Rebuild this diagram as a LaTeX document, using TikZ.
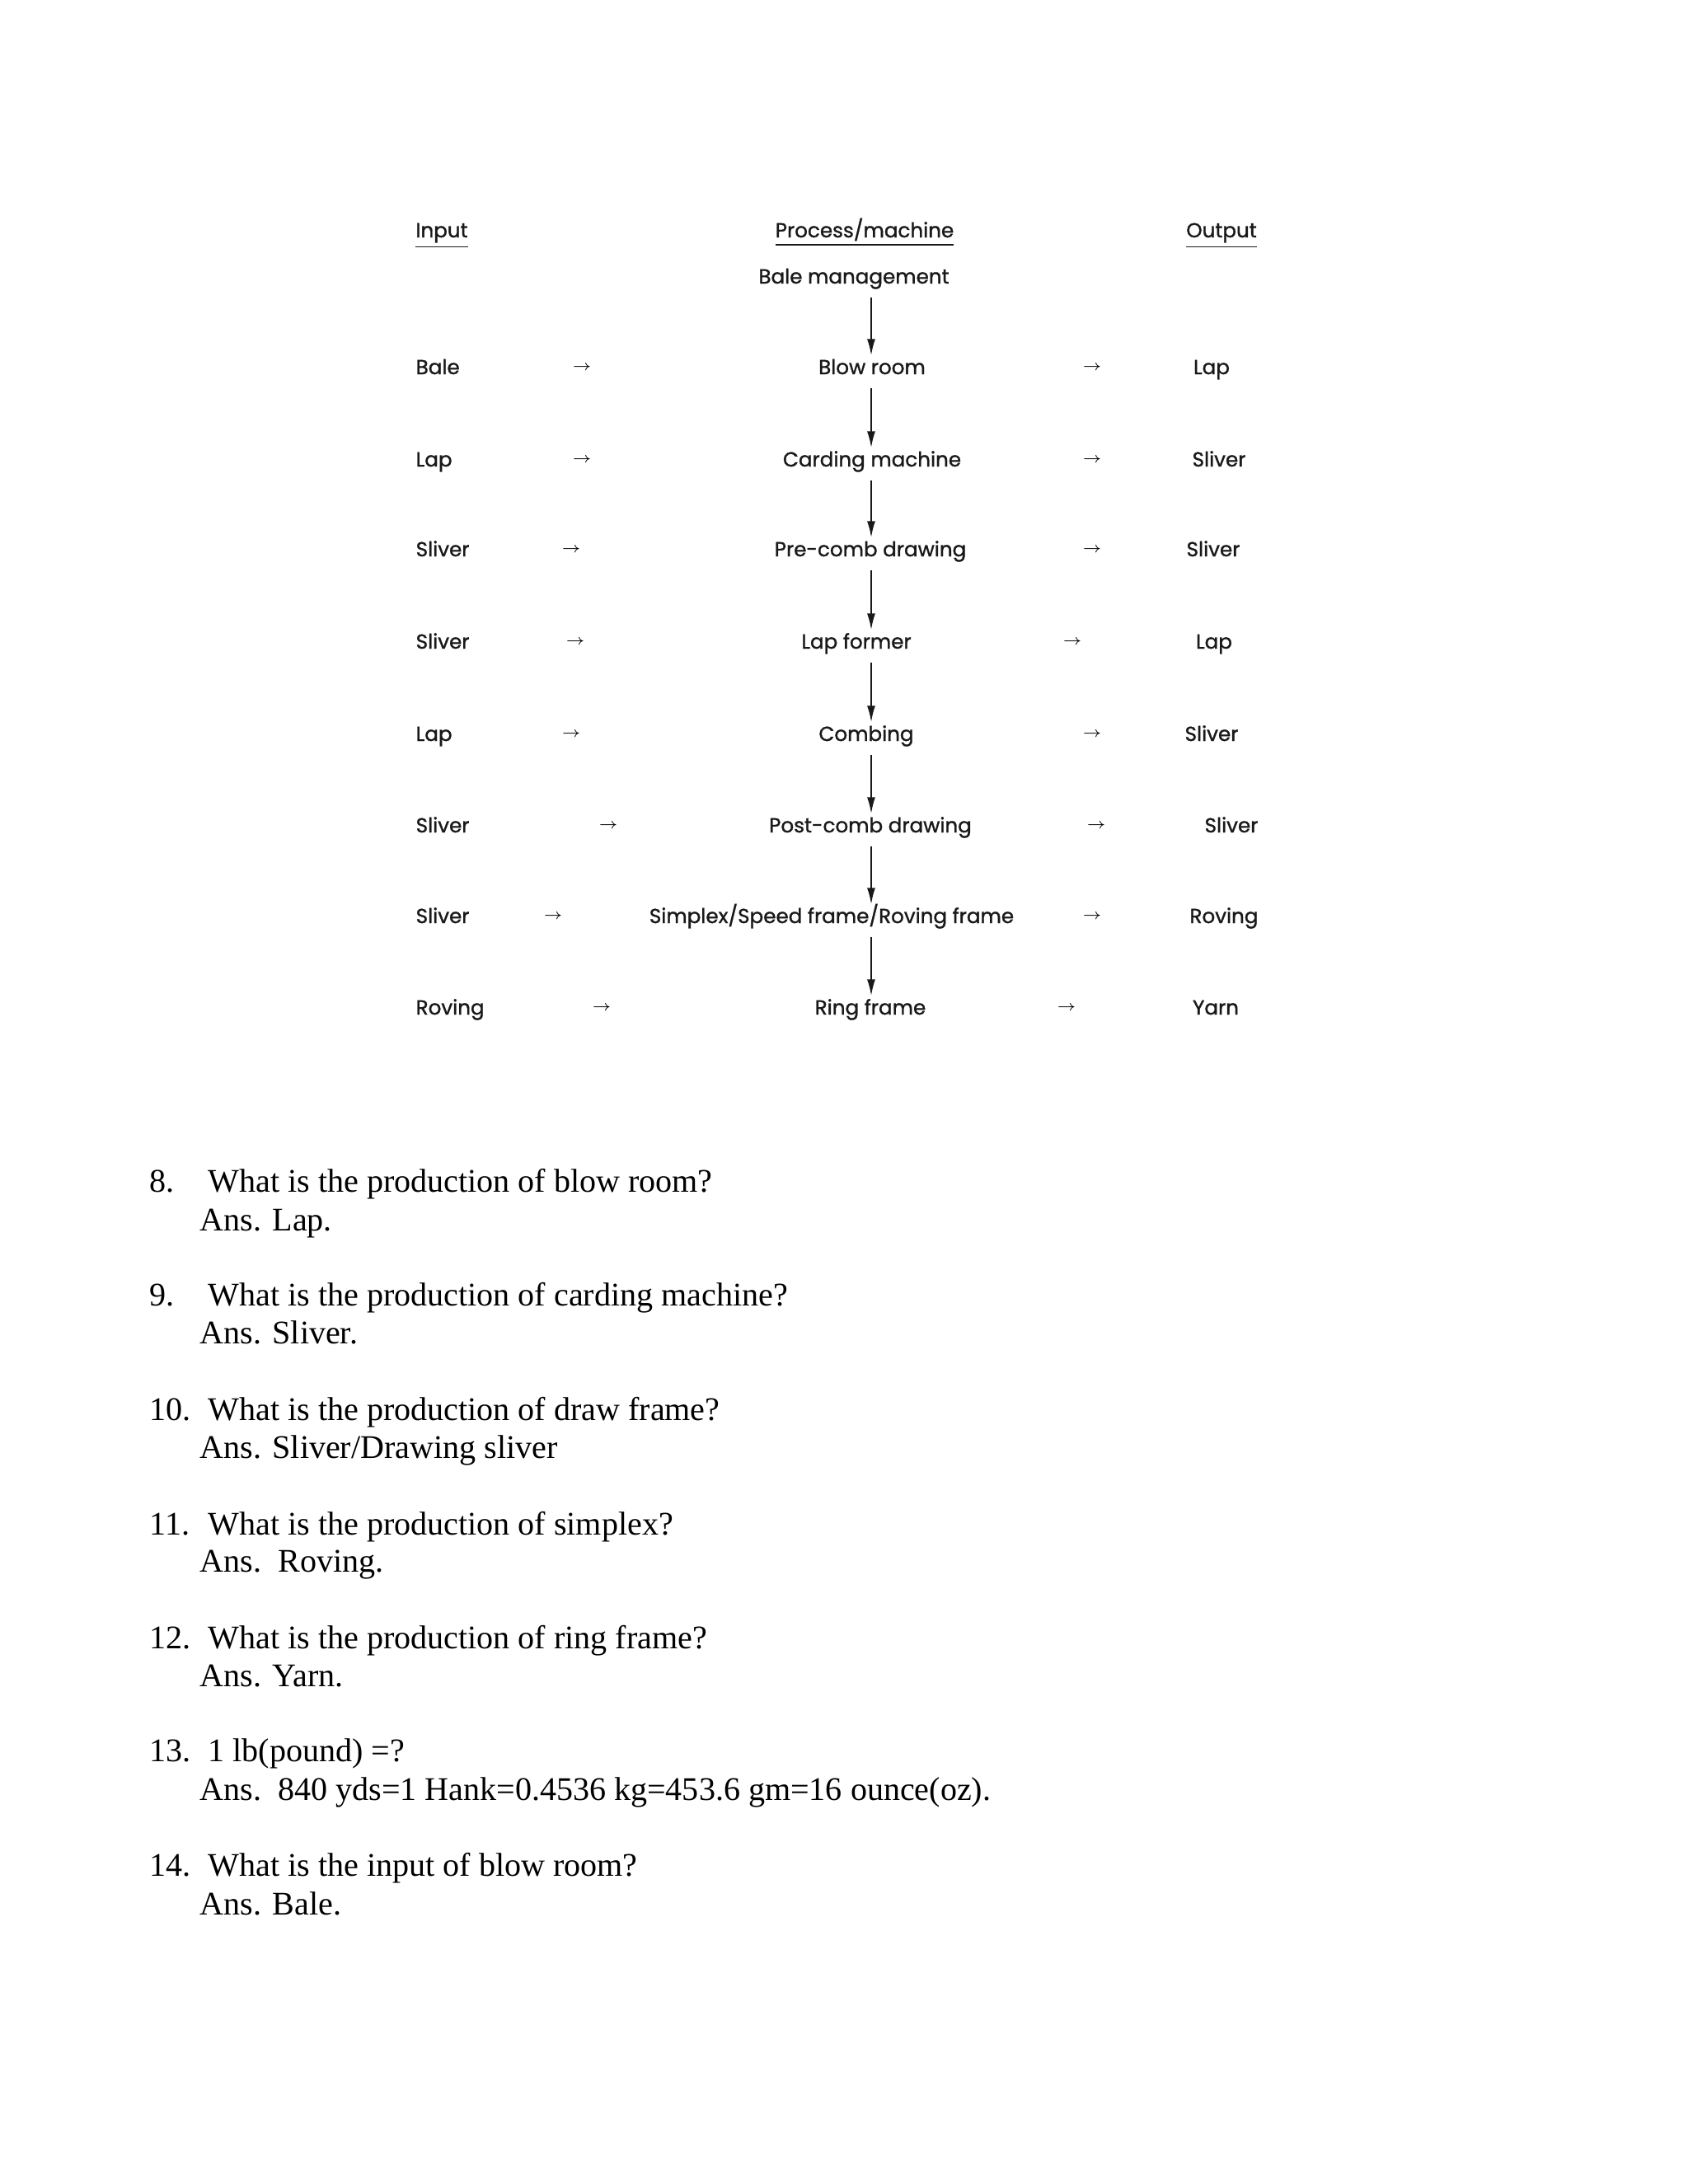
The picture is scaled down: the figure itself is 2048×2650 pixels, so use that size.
\documentclass[tikz,border=0pt]{standalone}
\usepackage{fontspec}
\setmainfont{Liberation Serif}
\newfontfamily\flowfont[FakeBold=1.2]{Poppins}
\usetikzlibrary{arrows.meta,positioning}

\tikzset{
  flow/.style={font=\flowfont\fontsize{7}{8}\selectfont,text=black!90,inner sep=0pt,text height=2.2mm,text depth=0.6mm},
  inrow/.style={flow,anchor=west},
  harrow/.style={font=\fontsize{5.5}{6}\selectfont,inner sep=0pt,text=black},
  down/.style={-{Latex[length=2mm,width=1mm]},line width=0.55pt,draw=black!90,shorten <=1mm},
  qa/.style={font=\fontsize{11.4}{13}\selectfont,anchor=base west,inner sep=0pt}
}

\begin{document}
\begin{tikzpicture}[x=0.1mm,y=-0.1mm]
  \fill[white] (0,0) rectangle (2048,2650);
  \useasboundingbox (0,0) rectangle (2048,2650);

  % headings
  \node[flow] (inhead)   at (536,280)  {\underline{Input}};
  \node[flow] (prochead) at (1049,280) {\underline{Process/machine}};
  \node[flow] (outhead)  at (1482,280) {\underline{Output}};
  \node[flow] (bale)     at (1036,336) {Bale management};
  \coordinate (spine) at (1057,0);

  % inputs
  \node[inrow] (in1) at (504,446)  {Bale};
  \node[inrow] (in2) at (504,558)  {Lap};
  \node[inrow] (in3) at (504,667)  {Sliver};
  \node[inrow] (in4) at (504,779)  {Sliver};
  \node[inrow] (in5) at (504,891)  {Lap};
  \node[inrow] (in6) at (504,1002) {Sliver};
  \node[inrow] (in7) at (504,1112) {Sliver};
  \node[inrow] (in8) at (504,1223) {Roving};

  % processes
  \node[flow] (p1) at (1058,446)  {Blow room};
  \node[flow] (p2) at (1058,558)  {Carding machine};
  \node[flow] (p3) at (1056,667)  {Pre-comb drawing};
  \node[flow] (p4) at (1039,779)  {Lap former};
  \node[flow] (p5) at (1051,891)  {Combing};
  \node[flow] (p6) at (1056,1002) {Post-comb drawing};
  \node[flow] (p7) at (1009,1112) {Simplex/Speed frame/Roving frame};
  \node[flow] (p8) at (1056,1223) {Ring frame};

  % outputs
  \node[flow] (out1) at (1470,446)  {Lap};
  \node[flow] (out2) at (1479,558)  {Sliver};
  \node[flow] (out3) at (1472,667)  {Sliver};
  \node[flow] (out4) at (1473,779)  {Lap};
  \node[flow] (out5) at (1470,891)  {Sliver};
  \node[flow] (out6) at (1494,1002) {Sliver};
  \node[flow] (out7) at (1485,1112) {Roving};
  \node[flow] (out8) at (1475,1223) {Yarn};

  % small arrows between the columns
  \node[harrow] (la1) at (706,446)  {$\rightarrow$};
  \node[harrow] (la2) at (706,558)  {$\rightarrow$};
  \node[harrow] (la3) at (693,667)  {$\rightarrow$};
  \node[harrow] (la4) at (698,779)  {$\rightarrow$};
  \node[harrow] (la5) at (693,891)  {$\rightarrow$};
  \node[harrow] (la6) at (738,1002) {$\rightarrow$};
  \node[harrow] (la7) at (671,1112) {$\rightarrow$};
  \node[harrow] (la8) at (730,1223) {$\rightarrow$};
  \node[harrow] (ra1) at (1325,446)  {$\rightarrow$};
  \node[harrow] (ra2) at (1325,558)  {$\rightarrow$};
  \node[harrow] (ra3) at (1325,667)  {$\rightarrow$};
  \node[harrow] (ra4) at (1301,779)  {$\rightarrow$};
  \node[harrow] (ra5) at (1325,891)  {$\rightarrow$};
  \node[harrow] (ra6) at (1330,1002) {$\rightarrow$};
  \node[harrow] (ra7) at (1325,1112) {$\rightarrow$};
  \node[harrow] (ra8) at (1294,1223) {$\rightarrow$};

  % the chain of machines
  \draw[down] (bale.south -| spine) -- (p1.north -| spine);
  \draw[down] (p1.south -| spine) -- (p2.north -| spine);
  \draw[down] (p2.south -| spine) -- (p3.north -| spine);
  \draw[down] (p3.south -| spine) -- (p4.north -| spine);
  \draw[down] (p4.south -| spine) -- (p5.north -| spine);
  \draw[down] (p5.south -| spine) -- (p6.north -| spine);
  \draw[down] (p6.south -| spine) -- (p7.north -| spine);
  \draw[down] (p7.south -| spine) -- (p8.north -| spine);

  % questions
  \node[qa] (n8)  at (181,1446) {8.};
  \node[qa] (q8)  at (252,1446) {What is the production of blow room?};
  \node[qa] (a8)  at (242,1493) {Ans. Lap.};
  \node[qa] (n9)  at (181,1584) {9.};
  \node[qa] (q9)  at (252,1584) {What is the production of carding machine?};
  \node[qa] (a9)  at (242,1630) {Ans. Sliver.};
  \node[qa] (n10) at (181,1723) {10.};
  \node[qa] (q10) at (252,1723) {What is the production of draw frame?};
  \node[qa] (a10) at (242,1769) {Ans. Sliver/Drawing sliver};
  \node[qa] (n11) at (181,1862) {11.};
  \node[qa] (q11) at (252,1862) {What is the production of simplex?};
  \node[qa] (a11) at (242,1907) {Ans.\ \ Roving.};
  \node[qa] (n12) at (181,2000) {12.};
  \node[qa] (q12) at (252,2000) {What is the production of ring frame?};
  \node[qa] (a12) at (242,2046) {Ans. Yarn.};
  \node[qa] (n13) at (181,2137) {13.};
  \node[qa] (q13) at (252,2137) {1 lb(pound) =?};
  \node[qa] (a13) at (242,2184) {Ans.\ \ 840 yds=1 Hank=0.4536 kg=453.6 gm=16 ounce(oz).};
  \node[qa] (n14) at (181,2276) {14.};
  \node[qa] (q14) at (252,2276) {What is the input of blow room?};
  \node[qa] (a14) at (242,2323) {Ans. Bale.};
\end{tikzpicture}
\end{document}
